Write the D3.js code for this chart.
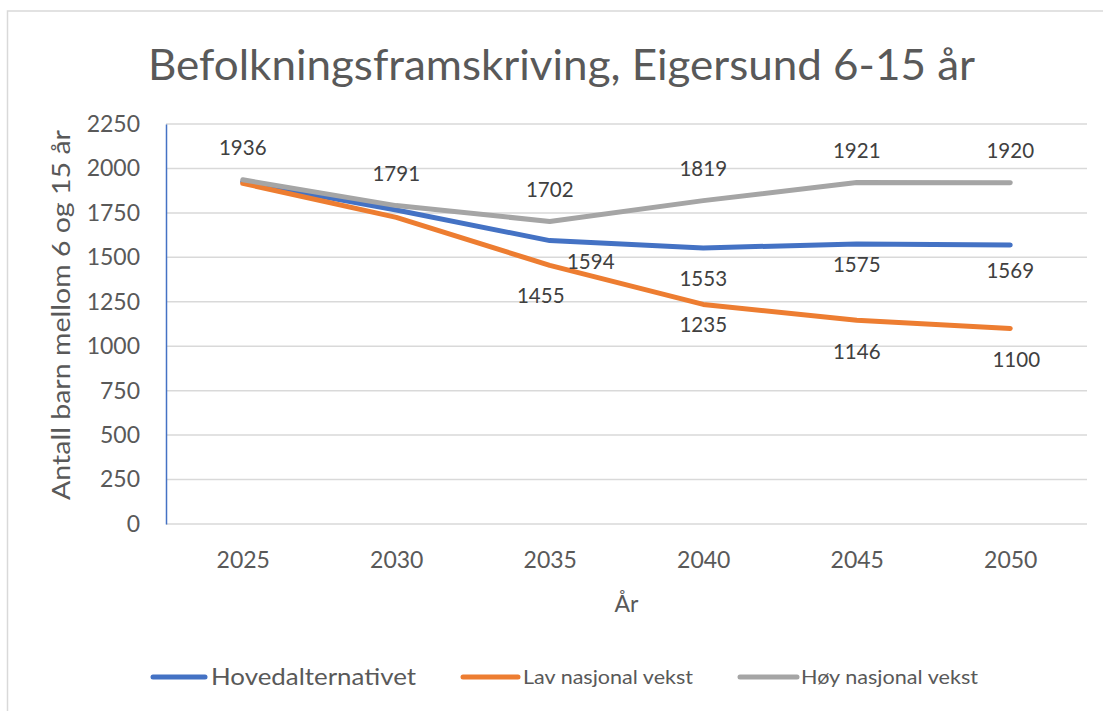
<!DOCTYPE html>
<html>
<head>
<meta charset="utf-8">
<script src="https://cdn.jsdelivr.net/npm/d3@7"></script>
<style>
  body { margin: 0; background: #fff; }
  svg { display: block; font-family: Lato, "Open Sans", sans-serif; }
</style>
</head>
<body>
<svg id="chart" width="1103" height="711"></svg>
<script>
// Data
const years = ['2025', '2030', '2035', '2040', '2045', '2050'];
const seriesNames = ['Hovedalternativet', 'Lav nasjonal vekst', 'Høy nasjonal vekst'];
const hovedValues = [1925, 1766, 1594, 1553, 1575, 1569];
const lavValues = [1916, 1725, 1455, 1235, 1146, 1100];
const hoyValues = [1936, 1791, 1702, 1819, 1921, 1920];
const yTicks = [0, 250, 500, 750, 1000, 1250, 1500, 1750, 2000, 2250];
// which points carry a data label (Excel hid the overlapping ones)
const hovedLabels = [false, false, true, true, true, true];
const lavLabels = [false, false, true, true, true, true];
const hoyLabels = [true, true, true, true, true, true];

const colors = ['#4472C4', '#ED7D31', '#A5A5A5'];

const svg = d3.select('#chart');

// Chart frame (right and bottom edges fall outside the picture)
svg.append('path')
  .attr('d', 'M1110,11 H7.5 V720')
  .attr('fill', 'none')
  .attr('stroke', '#D9D9D9')
  .attr('stroke-width', 1.5);

const margin = { top: 124, right: 1087, bottom: 524, left: 166 };

const x = d3.scalePoint()
  .domain(years)
  .range([margin.left, margin.right])
  .padding(0.5);

const y = d3.scaleLinear()
  .domain([0, 2250])
  .range([margin.bottom, margin.top]);

// Title
svg.append('text')
  .attr('x', 148)
  .attr('y', 80)
  .attr('font-size', 42)
  .attr('fill', '#595959')
  .attr('textLength', 827)
  .attr('lengthAdjust', 'spacingAndGlyphs')
  .text('Befolkningsframskriving, Eigersund 6-15 år');

// Gridlines
svg.append('g')
  .selectAll('line')
  .data(yTicks)
  .join('line')
  .attr('x1', margin.left)
  .attr('x2', margin.right)
  .attr('y1', d => y(d))
  .attr('y2', d => y(d))
  .attr('stroke', '#D9D9D9')
  .attr('stroke-width', 1.5);

// Y axis
const yAxis = svg.append('g')
  .attr('transform', `translate(${margin.left},0)`)
  .call(d3.axisLeft(y).tickValues(yTicks).tickFormat(d3.format('d')).tickSize(0).tickPadding(26));
yAxis.select('.domain').attr('stroke', '#4472C4').attr('stroke-width', 1.5);
yAxis.selectAll('text')
  .attr('font-family', 'Lato, sans-serif')
  .attr('font-size', 23)
  .attr('fill', '#595959');

// X axis
const xAxis = svg.append('g')
  .attr('transform', `translate(0,${margin.bottom})`)
  .call(d3.axisBottom(x).tickSize(0).tickPadding(28));
xAxis.select('.domain').remove();
xAxis.selectAll('text')
  .attr('font-family', 'Lato, sans-serif')
  .attr('font-size', 23)
  .attr('fill', '#595959');

// Axis titles
svg.append('text')
  .attr('transform', 'translate(70,315) rotate(-90)')
  .attr('text-anchor', 'middle')
  .attr('font-size', 25)
  .attr('fill', '#595959')
  .attr('textLength', 370)
  .attr('lengthAdjust', 'spacingAndGlyphs')
  .text('Antall barn mellom 6 og 15 år');

svg.append('text')
  .attr('x', (margin.left + margin.right) / 2)
  .attr('y', 612)
  .attr('text-anchor', 'middle')
  .attr('font-size', 23)
  .attr('fill', '#595959')
  .text('År');

// Lines
const allValues = [hovedValues, lavValues, hoyValues];
const allLabels = [hovedLabels, lavLabels, hoyLabels];
const line = d3.line()
  .x((d, i) => x(years[i]))
  .y(d => y(d));

allValues.forEach((vals, s) => {
  svg.append('path')
    .datum(vals)
    .attr('fill', 'none')
    .attr('stroke', colors[s])
    .attr('stroke-width', 5)
    .attr('stroke-linejoin', 'round')
    .attr('stroke-linecap', 'round')
    .attr('d', line);
});

// Data labels: gray above, blue/orange below, a few nudged like in the original
const labelDy = [24, 30, -32];
const labelNudge = {
  '0-2': [41, 21], '0-3': [0, 31], '0-4': [0, 21], '0-5': [0, 26],
  '1-2': [-9, 30], '1-3': [0, 20], '1-4': [0, 32], '1-5': [6, 31]
};

allValues.forEach((vals, s) => {
  svg.append('g')
    .selectAll('text')
    .data(vals.map((v, i) => ({ v, i })).filter(d => allLabels[s][d.i]))
    .join('text')
    .attr('x', d => {
      const n = labelNudge[`${s}-${d.i}`];
      return x(years[d.i]) + (n ? n[0] : 0);
    })
    .attr('y', d => {
      const n = labelNudge[`${s}-${d.i}`];
      return y(d.v) + (n ? n[1] : labelDy[s]);
    })
    .attr('dy', '0.35em')
    .attr('text-anchor', 'middle')
    .attr('font-size', 20.5)
    .attr('fill', '#404040')
    .text(d => d.v);
});

// Legend
const legendItems = [
  { x1: 153, x2: 205, tx: 211, tw: 205, fs: 23 },
  { x1: 463, x2: 518, tx: 523, tw: 170, fs: 20 },
  { x1: 740, x2: 797, tx: 801, tw: 177, fs: 20 }
];
const legend = svg.append('g')
  .selectAll('g')
  .data(seriesNames)
  .join('g');

legend.append('line')
  .attr('x1', (d, i) => legendItems[i].x1)
  .attr('x2', (d, i) => legendItems[i].x2)
  .attr('y1', 677)
  .attr('y2', 677)
  .attr('stroke', (d, i) => colors[i])
  .attr('stroke-width', 5)
  .attr('stroke-linecap', 'round');

legend.append('text')
  .attr('x', (d, i) => legendItems[i].tx)
  .attr('y', 677)
  .attr('dy', '0.35em')
  .attr('font-size', (d, i) => legendItems[i].fs)
  .attr('fill', '#595959')
  .attr('textLength', (d, i) => legendItems[i].tw)
  .attr('lengthAdjust', 'spacingAndGlyphs')
  .text(d => d);
</script>
</body>
</html>
